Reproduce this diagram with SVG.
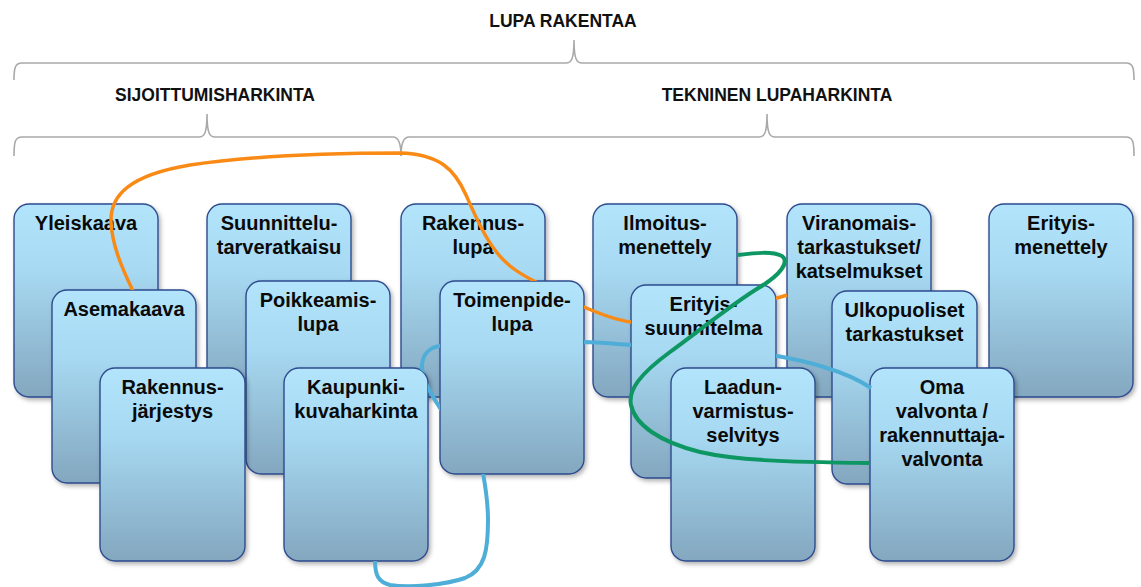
<svg xmlns="http://www.w3.org/2000/svg" width="1141" height="587" viewBox="0 0 1141 587">
<style>
.bk{fill:none;stroke:#a9a9a9;stroke-width:1.6}
.hd{font-family:"Liberation Sans",Arial,sans-serif;font-weight:bold;font-size:17.5px;fill:#111;text-anchor:middle}
.box{fill:url(#g);stroke:#2d4b8e;stroke-width:1.4;filter:url(#sh)}
.t{font-family:"Liberation Sans",Arial,sans-serif;font-weight:bold;font-size:20px;fill:#0a0a0a;text-anchor:middle}
.c{fill:none;stroke-linecap:butt;stroke-linejoin:round}
.or{stroke:#fa8a16;stroke-width:3.5}
.bl{stroke:#4eaed8;stroke-width:4}
.gr{stroke:#0e9763;stroke-width:4}
</style>
<defs>
<linearGradient id="g" x1="0" y1="0" x2="0" y2="1">
<stop offset="0" stop-color="#b2e4fc"/>
<stop offset="0.35" stop-color="#a7d9f2"/>
<stop offset="1" stop-color="#83a7bf"/>
</linearGradient>
<filter id="sh" x="-10%" y="-10%" width="125%" height="125%">
<feDropShadow dx="2" dy="2.5" stdDeviation="2" flood-color="#000" flood-opacity="0.3"/>
</filter>
<clipPath id="behind">
<path clip-rule="evenodd" d="M0 0H1141V587H0Z
M67 290H181A15 15 0 0 1 196 305V468A15 15 0 0 1 181 483H67A15 15 0 0 1 52 468V305A15 15 0 0 1 67 290Z
M299 368H413A15 15 0 0 1 428 383V546A15 15 0 0 1 413 561H299A15 15 0 0 1 284 546V383A15 15 0 0 1 299 368Z
M455 281H569A15 15 0 0 1 584 296V459A15 15 0 0 1 569 474H455A15 15 0 0 1 440 459V296A15 15 0 0 1 455 281Z
M646 285H761A15 15 0 0 1 776 300V463A15 15 0 0 1 761 478H646A15 15 0 0 1 631 463V300A15 15 0 0 1 646 285Z"/>
</clipPath>
</defs>

<g id="brackets">
<text class="hd" x="563" y="27">LUPA RAKENTAA</text>
<path class="bk" d="M14 80C14 68 15 63 22 63H566C571 63 574 60 574 40C574 60 577 63 582 63H1126C1133 63 1134 68 1134 80"/>
<text class="hd" x="215" y="101">SIJOITTUMISHARKINTA</text>
<path class="bk" d="M14 156C14 142 15 137 22 137H199C204 137 207 134 207 114C207 134 210 137 215 137H393C398 137 401 142 401 156"/>
<text class="hd" x="777" y="101">TEKNINEN LUPAHARKINTA</text>
<path class="bk" d="M401 156C401 142 404 137 409 137H759C764 137 767 134 767 114C767 134 770 137 775 137H1126C1133 137 1134 142 1134 156"/>
</g>

<g id="yleiskaava"><rect class="box" x="14" y="204" width="144" height="193" rx="15"/><text class="t" x="86" y="229.5">Yleiskaava</text></g>
<g id="suunnittelutarveratkaisu"><rect class="box" x="207" y="204" width="144" height="193" rx="15"/><text class="t" x="279" y="229.5">Suunnittelu-</text><text class="t" x="279" y="253.5">tarveratkaisu</text></g>
<g id="rakennuslupa"><rect class="box" x="401" y="204" width="144" height="193" rx="15"/><text class="t" x="473" y="229.5">Rakennus-</text><text class="t" x="473" y="253.5">lupa</text></g>
<g id="ilmoitusmenettely"><rect class="box" x="593" y="204" width="144" height="193" rx="15"/><text class="t" x="665" y="229.5">Ilmoitus-</text><text class="t" x="665" y="253.5">menettely</text></g>
<g id="viranomaistarkastukset"><rect class="box" x="787" y="204" width="144" height="193" rx="15"/><text class="t" x="859" y="229.5">Viranomais-</text><text class="t" x="859" y="253.5">tarkastukset/</text><text class="t" x="859" y="277.5">katselmukset</text></g>
<g id="erityismenettely"><rect class="box" x="989" y="204" width="144" height="193" rx="15"/><text class="t" x="1061" y="229.5">Erityis-</text><text class="t" x="1061" y="253.5">menettely</text></g>

<g id="asemakaava"><rect class="box" x="52" y="290" width="144" height="193" rx="15"/><text class="t" x="124" y="316">Asemakaava</text></g>
<g id="poikkeamislupa"><rect class="box" x="246" y="281" width="144" height="193" rx="15"/><text class="t" x="318" y="307">Poikkeamis-</text><text class="t" x="318" y="331">lupa</text></g>
<g id="toimenpidelupa"><rect class="box" x="440" y="281" width="144" height="193" rx="15"/><text class="t" x="512" y="307">Toimenpide-</text><text class="t" x="512" y="331">lupa</text></g>
<g id="erityissuunnitelma"><rect class="box" x="631" y="285" width="145" height="193" rx="15"/><text class="t" x="703.5" y="311">Erityis-</text><text class="t" x="703.5" y="335">suunnitelma</text></g>
<g id="ulkopuoliset"><rect class="box" x="832" y="291" width="145" height="193" rx="15"/><text class="t" x="904.5" y="317">Ulkopuoliset</text><text class="t" x="904.5" y="341">tarkastukset</text></g>

<g id="rakennusjarjestys"><rect class="box" x="100" y="368" width="145" height="193" rx="15"/><text class="t" x="172.5" y="394">Rakennus-</text><text class="t" x="172.5" y="418">järjestys</text></g>
<g id="kaupunkikuvaharkinta"><rect class="box" x="284" y="368" width="144" height="193" rx="15"/><text class="t" x="356" y="394">Kaupunki-</text><text class="t" x="356" y="418">kuvaharkinta</text></g>
<g id="laadunvarmistusselvitys"><rect class="box" x="671" y="368" width="144" height="193" rx="15"/><text class="t" x="743" y="394">Laadun-</text><text class="t" x="743" y="418">varmistus-</text><text class="t" x="743" y="442">selvitys</text></g>
<g id="omavalvonta"><rect class="box" x="870" y="368" width="144" height="193" rx="15"/><text class="t" x="942" y="394">Oma</text><text class="t" x="942" y="418">valvonta /</text><text class="t" x="942" y="442">rakennuttaja-</text><text class="t" x="942" y="466">valvonta</text></g>

<g id="connectors">
<path class="c or" clip-path="url(#behind)" d="M133 291C122 268 112 245 111 222C110 195 130 175 190 165C250 156 320 153 400 153C440 154 455 170 466 195C478 222 490 250 510 266C520 274 528 278 536 282L584 307C600 314 615 320 631 322L777 298C781 297 784 296 787 295"/>
<path class="c bl" clip-path="url(#behind)" d="M375 560C375 575 378 582 390 585C410 588 445 585 465 578C485 570 488 550 488 520C488 500 485 485 483 473L440 408C430 392 421 378 422 365C423 352 432 347 440 346L584 342C600 342 615 344 631 345L777 356C800 360 845 370 871 388"/>
<path class="c gr" d="M738 255C755 253 772 251 782 256C790 262 780 275 760 287C735 302 700 330 670 352C640 374 628 390 631 405C635 425 660 442 700 452C735 460 780 462 870 463"/>
</g>
</svg>
